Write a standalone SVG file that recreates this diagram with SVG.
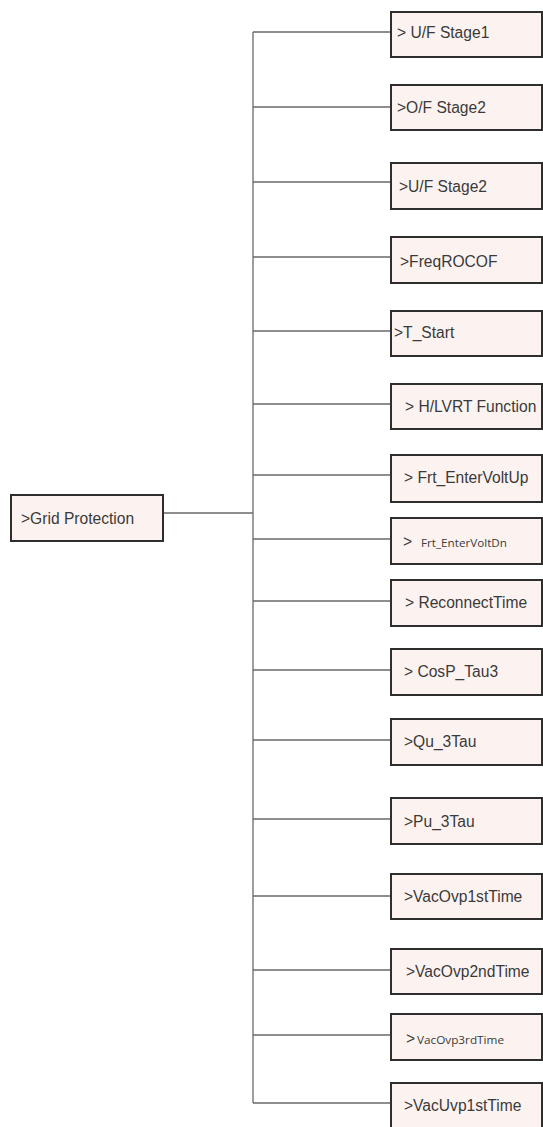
<svg xmlns="http://www.w3.org/2000/svg" width="543" height="1127" viewBox="0 0 543 1127">
<style>
.box{fill:#fcf3f1;stroke:#2e2e2e;stroke-width:2}
.t{font-family:"Liberation Sans",Arial,sans-serif;font-size:15.6px;fill:#3a3a3a}
.s{font-family:"Open Sans","DejaVu Sans",sans-serif;font-size:10.5px;fill:#3a3a3a}
.c{stroke:#6a6a6a;stroke-width:1.3;fill:none}
</style>
<rect width="543" height="1127" fill="#ffffff"/>
<g id="connectors">
<path class="c" d="M163 513H253M253 32V1103M253 32H391M253 107H391M253 182H391M253 257H391M253 331H391M253 404H391M253 475H391M253 539H391M253 601H391M253 670H391M253 740H391M253 819H391M253 896H391M253 970H391M253 1035H391M253 1103H391"/>
</g>
<g id="grid-protection"><rect class="box" x="11" y="495" width="152" height="46"/><text class="t" x="21" y="524">&gt;Grid Protection</text></g>
<g id="uf-stage1"><rect class="box" x="391" y="12" width="151" height="45"/><text class="t" x="397" y="38">&gt; U/F Stage1</text></g>
<g id="of-stage2"><rect class="box" x="391" y="85" width="151" height="45"/><text class="t" x="397" y="113">&gt;O/F Stage2</text></g>
<g id="uf-stage2"><rect class="box" x="391" y="163" width="151" height="46"/><text class="t" x="399" y="192">&gt;U/F Stage2</text></g>
<g id="freqrocof"><rect class="box" x="391" y="237" width="151" height="46"/><text class="t" x="400" y="267">&gt;FreqROCOF</text></g>
<g id="t-start"><rect class="box" x="391" y="311" width="151" height="45"/><text class="t" x="394" y="338">&gt;T_Start</text></g>
<g id="hlvrt"><rect class="box" x="391" y="384" width="151" height="45"/><text class="t" x="405" y="412">&gt; H/LVRT Function</text></g>
<g id="frt-up"><rect class="box" x="391" y="455" width="151" height="47"/><text class="t" x="404" y="483">&gt; Frt_EnterVoltUp</text></g>
<g id="frt-dn"><rect class="box" x="391" y="518" width="151" height="46"/><text class="t" x="403" y="547" font-size="13">&gt;</text><text class="s" x="421" y="547" textLength="86" lengthAdjust="spacingAndGlyphs">Frt_EnterVoltDn</text></g>
<g id="reconnect"><rect class="box" x="391" y="580" width="151" height="46"/><text class="t" x="405" y="608">&gt; ReconnectTime</text></g>
<g id="cosp"><rect class="box" x="391" y="649" width="151" height="46"/><text class="t" x="404" y="677">&gt; CosP_Tau3</text></g>
<g id="qu"><rect class="box" x="391" y="719" width="151" height="46"/><text class="t" x="404" y="747">&gt;Qu_3Tau</text></g>
<g id="pu"><rect class="box" x="391" y="798" width="151" height="46"/><text class="t" x="404" y="827">&gt;Pu_3Tau</text></g>
<g id="ovp1"><rect class="box" x="391" y="874" width="151" height="45"/><text class="t" x="404" y="902">&gt;VacOvp1stTime</text></g>
<g id="ovp2"><rect class="box" x="391" y="949" width="151" height="45"/><text class="t" x="406" y="977">&gt;VacOvp2ndTime</text></g>
<g id="ovp3"><rect class="box" x="391" y="1014" width="151" height="46"/><text class="t" x="406" y="1044">&gt;</text><text class="s" x="417" y="1044" textLength="87" lengthAdjust="spacingAndGlyphs">VacOvp3rdTime</text></g>
<g id="uvp1"><rect class="box" x="391" y="1083" width="151" height="46"/><text class="t" x="404" y="1111">&gt;VacUvp1stTime</text></g>
</svg>
